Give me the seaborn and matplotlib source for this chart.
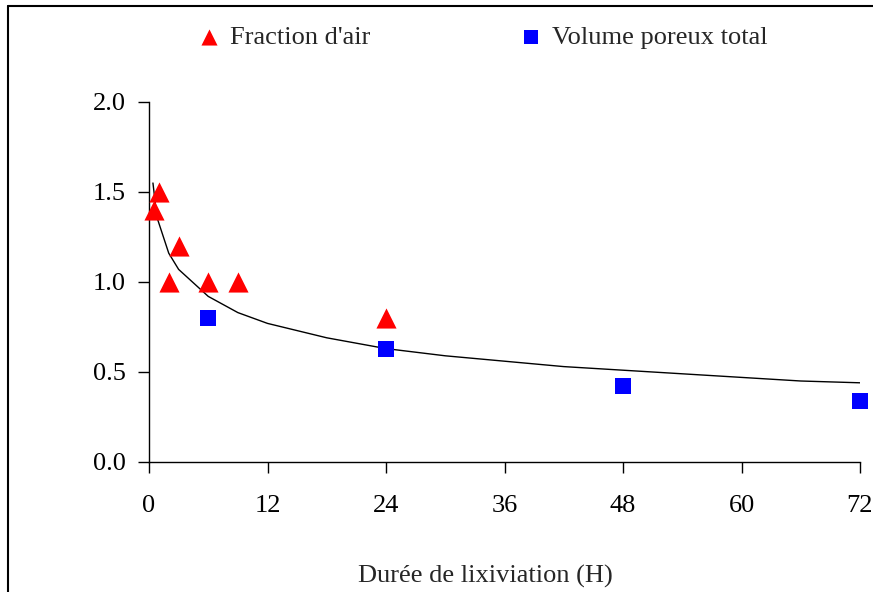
import matplotlib
matplotlib.use("Agg")
import matplotlib.pyplot as plt
import seaborn as sns
import pandas as pd
from matplotlib.lines import Line2D
from matplotlib.ticker import FormatStrFormatter

# data
air_hours = [0.5, 1, 2, 3, 6, 9, 24]
air_values = [1.4, 1.5, 1.0, 1.2, 1.0, 1.0, 0.8]

pore_hours = [6, 24, 48, 72]
pore_values = [0.8, 0.63, 0.42, 0.34]

# trend curve, points
trend_hours = [0.4, 0.8, 2, 3, 6, 9, 12, 18, 24, 30, 36, 42, 48, 54, 60, 66, 72]
trend_values = [1.55, 1.36, 1.16, 1.07, 0.92, 0.83, 0.77, 0.69, 0.63, 0.59,
                0.56, 0.53, 0.51, 0.49, 0.47, 0.45, 0.44]

air_df = pd.DataFrame({"hours": air_hours, "value": air_values})
pore_df = pd.DataFrame({"hours": pore_hours, "value": pore_values})
trend_df = pd.DataFrame({"hours": trend_hours, "value": trend_values})

sns.set_style("ticks")
plt.rcParams["font.family"] = ["Liberation Serif", "DejaVu Serif"]

fig = plt.figure(figsize=(8.73, 5.92), dpi=100)
ax = fig.add_axes([149 / 873, 1 - 462 / 592, 711 / 873, 360 / 592])

# trend line
sns.lineplot(data=trend_df, x="hours", y="value", color="black",
             linewidth=1, ax=ax, legend=False)

# the two measured series
sns.scatterplot(data=air_df, x="hours", y="value", marker="^", color="#ff0000",
                s=210, linewidth=0, ax=ax, label="Fraction d'air", zorder=3,
                clip_on=False)
sns.scatterplot(data=pore_df, x="hours", y="value", marker="s", color="#0000ff",
                s=140, linewidth=0, ax=ax, label="Volume poreux total", zorder=3,
                clip_on=False)

ax.set_xlim(0, 72)
ax.set_ylim(0, 2.0)
ax.set_xticks([0, 12, 24, 36, 48, 60, 72])
ax.set_yticks([0, 0.5, 1.0, 1.5, 2.0])
ax.yaxis.set_major_formatter(FormatStrFormatter("%.1f"))
ax.tick_params(axis="both", direction="out", length=8, width=1, labelsize=19,
               colors="black")
ax.tick_params(axis="x", pad=16)
ax.tick_params(axis="y", pad=9)

for side in ["top", "right"]:
    ax.spines[side].set_visible(False)
for side in ["left", "bottom"]:
    ax.spines[side].set_color("black")
    ax.spines[side].set_linewidth(1)

ax.set_ylabel("")
ax.set_xlabel("Durée de lixiviation (H)", fontsize=19)
ax.xaxis.set_label_coords(0.4726, -0.285)

# legend on top, outside the axes
handles, labels = ax.get_legend_handles_labels()
ax.legend_.remove()
fig.legend(handles, labels, loc="center", bbox_to_anchor=(0.552, 0.937),
           ncol=2, frameon=False, fontsize=19, columnspacing=5.6,
           handletextpad=0.3, handlelength=1.0, markerscale=0.8)

# frame lines of the chart area (top and left only)
fig.add_artist(Line2D([8 / 873, 8 / 873], [0, 1 - 6 / 592], color="black",
                      linewidth=1.5, transform=fig.transFigure))
fig.add_artist(Line2D([8 / 873, 1], [1 - 6 / 592, 1 - 6 / 592], color="black",
                      linewidth=1.5, transform=fig.transFigure))

fig.savefig("out.png", dpi=100)
